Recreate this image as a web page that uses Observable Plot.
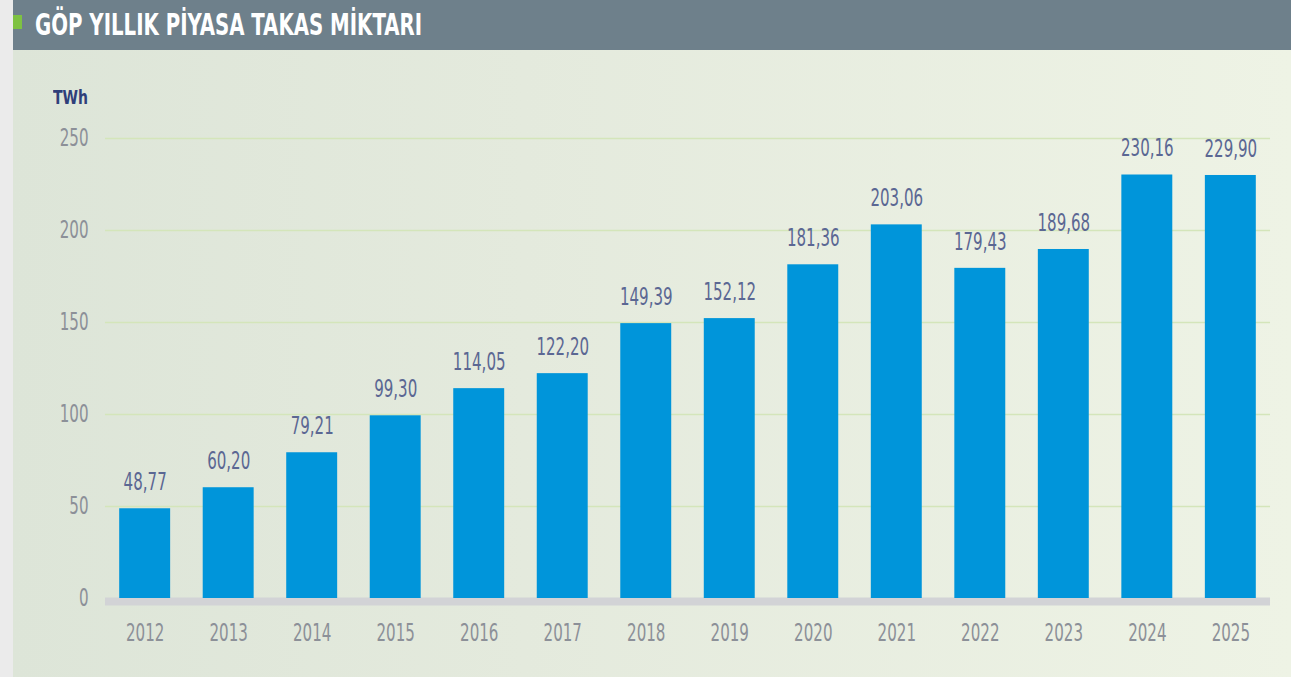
<!DOCTYPE html>
<html><head><meta charset="utf-8">
<script src="https://cdn.jsdelivr.net/npm/d3@7"></script>
<script src="https://cdn.jsdelivr.net/npm/@observablehq/plot@0.6"></script>
<style>
body{margin:0;width:1291px;height:677px;background:#ebebeb;overflow:hidden;position:relative;font-family:"Liberation Sans Narrow","DejaVu Sans Condensed","Roboto",sans-serif;}
#panel{position:absolute;left:13px;top:0;width:1278px;height:677px;background:linear-gradient(90deg,#dde5d8 0%,#e4eadd 40%,#eef3e5 100%);}
#titlebar{position:absolute;left:13px;top:0;width:1278px;height:50px;background:#6e808b;}
#mark{position:absolute;left:13px;top:15px;width:9px;height:14px;background:#7ec242;}
#title{position:absolute;left:35px;top:10px;margin:0;color:#fff;font-weight:bold;font-size:30px;line-height:30px;white-space:nowrap;transform-origin:left top;}
#unit{position:absolute;left:53px;top:87px;color:#2f3f7a;font-weight:bold;font-size:20px;line-height:20px;transform-origin:left top;}
#chart{position:absolute;left:0;top:50px;}
</style></head>
<body>
<div id="panel"></div>
<div id="titlebar"></div>
<div id="mark"></div>
<h1 id="title">GÖP YILLIK PİYASA TAKAS MİKTARI</h1>
<div id="unit">TWh</div>
<div id="chart"></div>
<script>
const years = ["2012","2013","2014","2015","2016","2017","2018","2019","2020","2021","2022","2023","2024","2025"];
const values = [48.77,60.20,79.21,99.30,114.05,122.20,149.39,152.12,181.36,203.06,179.43,189.68,230.16,229.90];
const yTicks = [0,50,100,150,200,250];

const data = years.map((year, i) => ({year, value: values[i]}));
const fmt = v => v.toFixed(2).replace(".", ",");
const font = '"Liberation Sans Narrow","DejaVu Sans Condensed","Roboto",sans-serif';

const chart = Plot.plot({
  width: 1291, height: 627,
  marginTop: 88, marginBottom: 79, marginLeft: 105, marginRight: 21,
  style: {background: "transparent", fontFamily: font},
  x: {domain: years, paddingInner: 0.39, paddingOuter: 0.17, round: false, axis: null},
  y: {domain: [0, 250], axis: null},
  marks: [
    Plot.ruleY(yTicks.filter(d => d > 0), {stroke: "#d4e5ba", strokeWidth: 1.6}),
    Plot.ruleY([0], {stroke: "#d2d3d6", strokeWidth: 8, dy: 3}),
    Plot.barY(data, {x: "year", y: "value", fill: "#0095da"}),
    Plot.text(data, {x: "year", y: "value", text: d => fmt(d.value), dy: -26.5, fill: "#5b6793", fontSize: 24}),
    Plot.axisX({label: null, tickSize: 0, tickPadding: 35, lineAnchor: "middle", fontSize: 24, color: "#8c9098"}),
    Plot.axisY({label: null, ticks: yTicks, tickSize: 0, tickPadding: 17, fontSize: 24, color: "#8c9098", tickFormat: d => String(d)})
  ]
});
document.getElementById("chart").appendChild(chart);

// condense text to match the narrow typeface of the original
chart.querySelectorAll("text").forEach(t => {
  const s = t.textContent;
  const digits = (s.match(/[0-9]/g) || []).length;
  const commas = (s.match(/,/g) || []).length;
  if (digits > 0) {
    t.setAttribute("textLength", (digits * 9.6 + commas * 4.7).toFixed(1));
    t.setAttribute("lengthAdjust", "spacingAndGlyphs");
  }
});
const title = document.getElementById("title");
title.style.transform = `scaleX(${387 / title.getBoundingClientRect().width})`;
const unit = document.getElementById("unit");
unit.style.transform = `scaleX(${35 / unit.getBoundingClientRect().width})`;
</script>
</body></html>
